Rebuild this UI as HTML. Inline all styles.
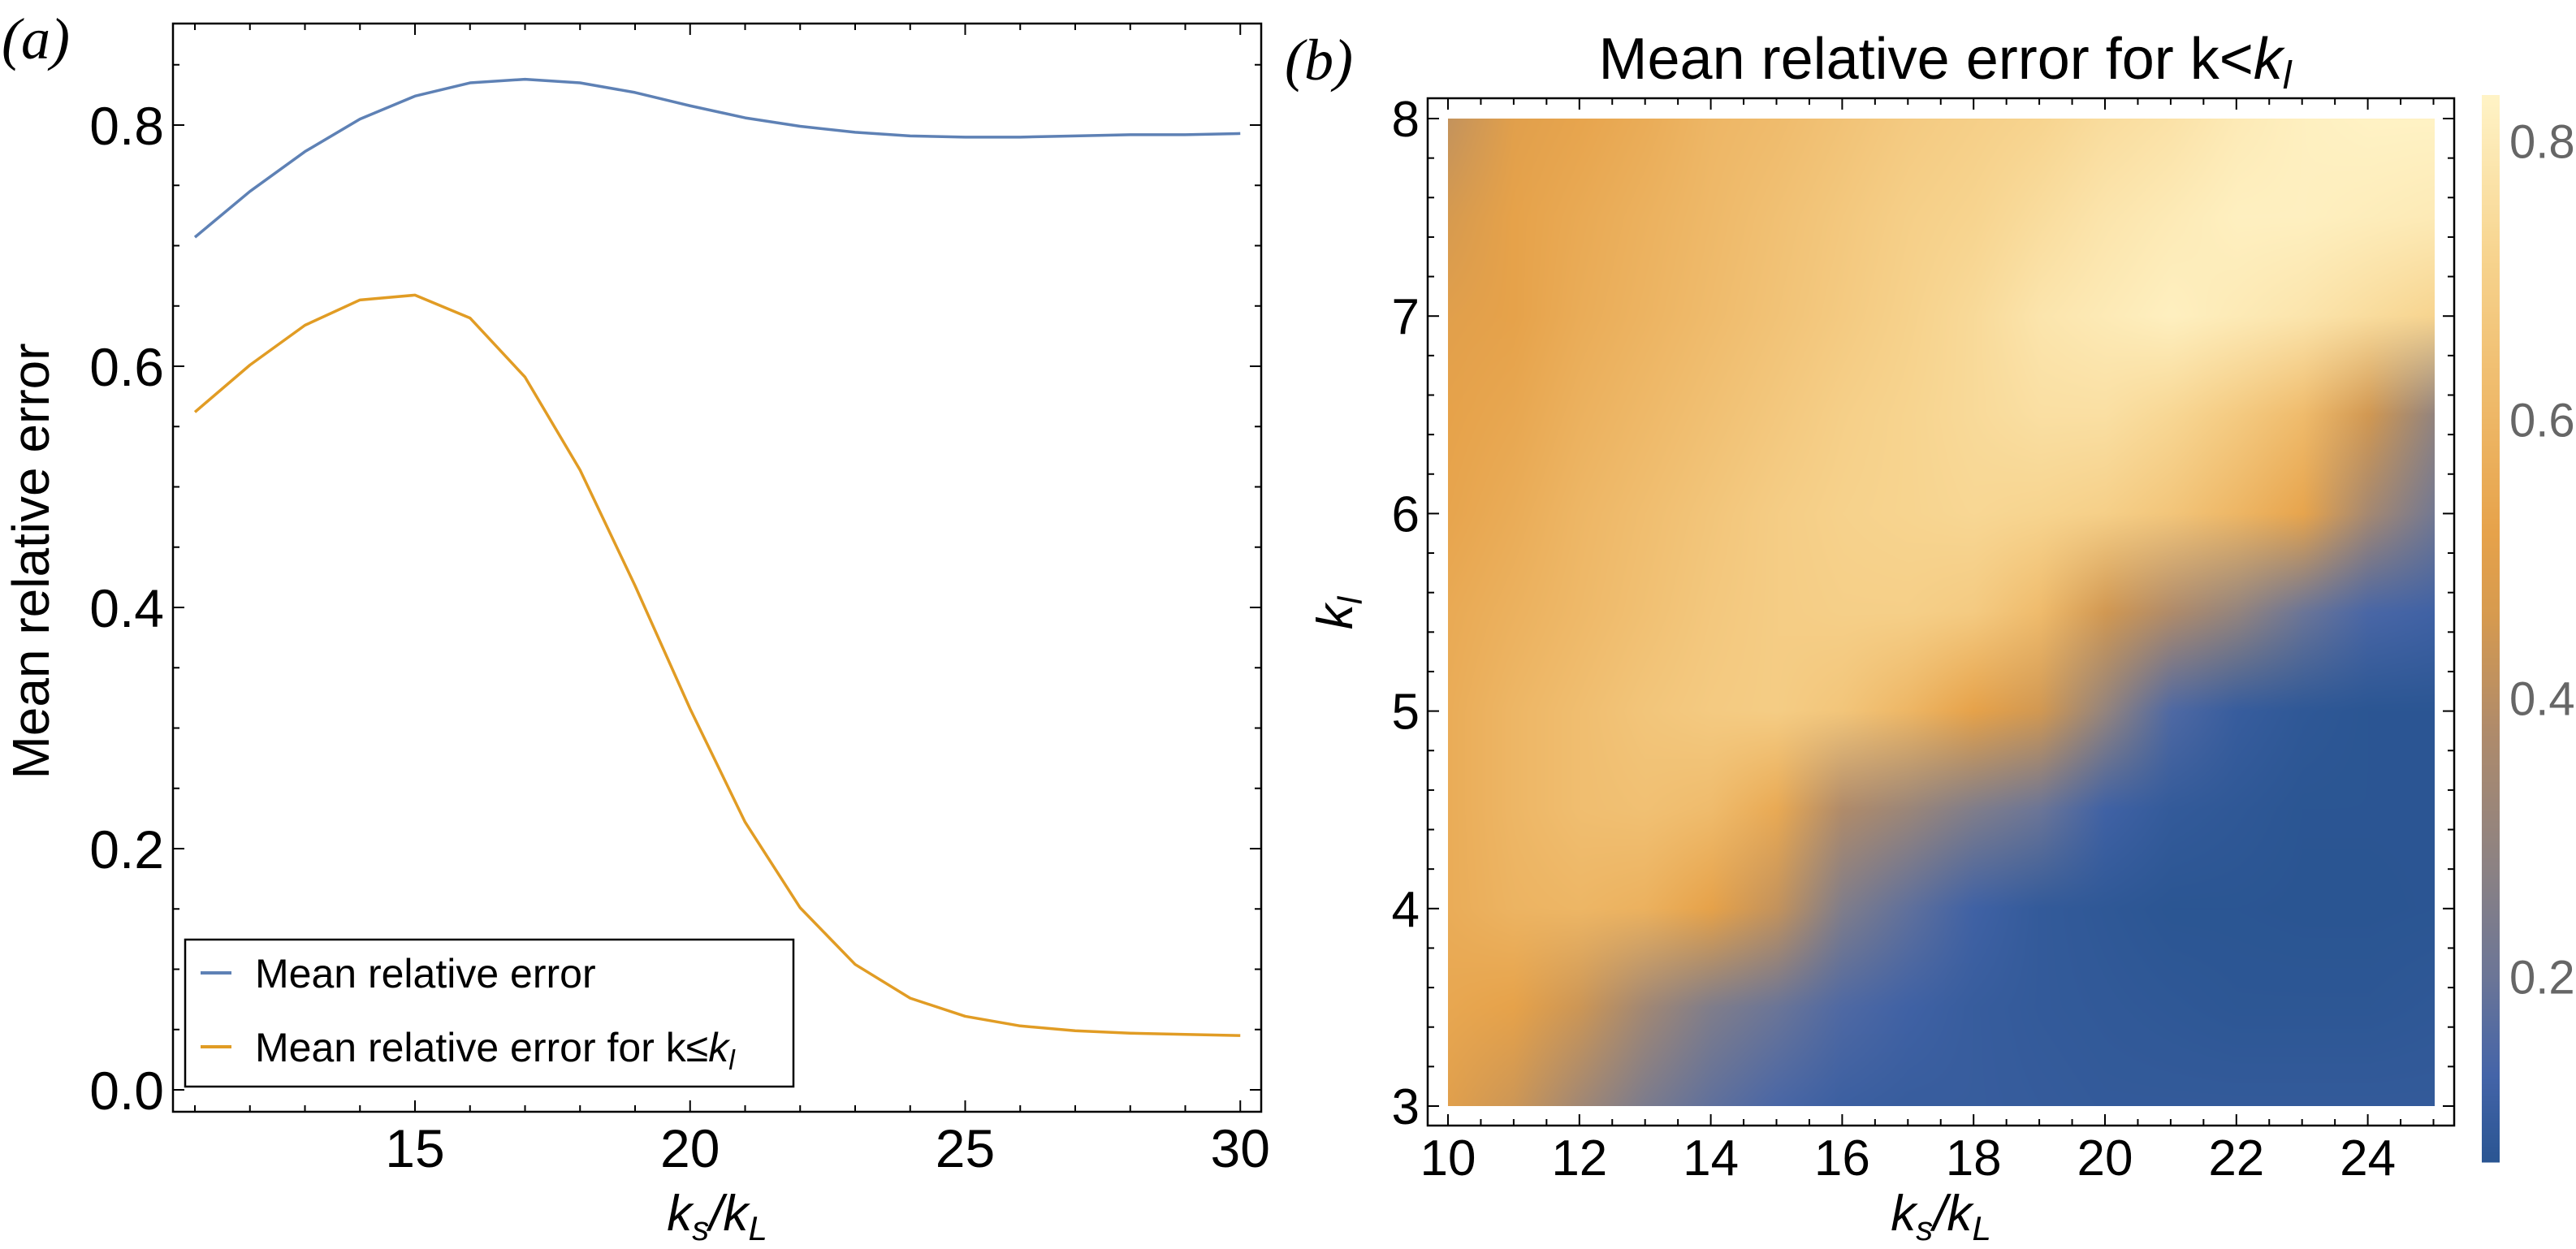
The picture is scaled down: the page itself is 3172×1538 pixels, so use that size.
<!DOCTYPE html>
<html><head><meta charset="utf-8"><style>
html,body{margin:0;padding:0;background:#fff;}
#wrap{position:relative;width:3172px;height:1538px;overflow:hidden;}
svg{position:absolute;left:0;top:0;}
#hm{position:absolute;left:1783px;top:146px;}
text{font-family:"Liberation Sans",sans-serif;}
</style></head><body>
<div id="wrap">
<canvas id="hm" width="1215" height="1216"></canvas>
<svg id="svg" width="3172" height="1538"></svg>
</div>
<script>
// ---- Panel (a) data ----
const ksA = [11,12,13,14,15,16,17,18,19,20,21,22,23,24,25,26,27,28,29,30];
const meanErr = [0.707,0.745,0.778,0.805,0.824,0.835,0.838,0.835,0.827,0.816,0.806,0.799,0.794,0.791,0.790,0.790,0.791,0.792,0.792,0.793];
const meanErrLow = [0.562,0.601,0.634,0.655,0.659,0.640,0.591,0.514,0.418,0.316,0.222,0.151,0.104,0.076,0.061,0.053,0.049,0.047,0.046,0.045];
const xTicksA = [15,20,25,30];
const yTicksA = [0.0,0.2,0.4,0.6,0.8];
// ---- Panel (b) data ----
const ksB = [10,11,12,13,14,15,16,17,18,19,20,21,22,23,24,25];
const klB = [3,3.5,4,4.5,5,5.5,6,6.5,7,7.5,8];
const errGrid = [
 [0.50,0.44,0.34,0.24,0.18,0.14,0.11,0.10,0.10,0.095,0.09,0.09,0.09,0.09,0.09,0.09],
 [0.54,0.52,0.44,0.34,0.25,0.20,0.15,0.12,0.10,0.09,0.085,0.08,0.075,0.075,0.075,0.08],
 [0.56,0.59,0.60,0.58,0.52,0.42,0.25,0.18,0.12,0.09,0.08,0.07,0.07,0.065,0.065,0.07],
 [0.56,0.60,0.63,0.64,0.62,0.55,0.38,0.32,0.25,0.20,0.12,0.09,0.08,0.07,0.07,0.07],
 [0.56,0.60,0.63,0.66,0.68,0.69,0.66,0.60,0.52,0.45,0.30,0.15,0.10,0.08,0.07,0.07],
 [0.55,0.58,0.61,0.64,0.67,0.69,0.70,0.70,0.68,0.62,0.45,0.38,0.30,0.20,0.14,0.12],
 [0.53,0.56,0.60,0.63,0.66,0.69,0.71,0.72,0.73,0.72,0.70,0.66,0.60,0.53,0.35,0.22],
 [0.52,0.54,0.58,0.61,0.64,0.67,0.70,0.72,0.74,0.76,0.76,0.73,0.68,0.62,0.45,0.30],
 [0.50,0.52,0.56,0.59,0.62,0.65,0.68,0.71,0.74,0.78,0.80,0.82,0.80,0.78,0.75,0.72],
 [0.46,0.52,0.55,0.58,0.61,0.64,0.67,0.70,0.72,0.75,0.78,0.80,0.82,0.82,0.81,0.80],
 [0.42,0.50,0.53,0.56,0.60,0.62,0.65,0.68,0.70,0.72,0.75,0.77,0.80,0.82,0.83,0.83]
];
const xTicksB = [10,12,14,16,18,20,22,24];
const yTicksB = [3,4,5,6,7,8];
const cbTicks = [0.2,0.4,0.6,0.8];

const NS="http://www.w3.org/2000/svg";
const svg=document.getElementById('svg');
function el(tag,attrs,parent){const e=document.createElementNS(NS,tag);for(const k in attrs)e.setAttribute(k,attrs[k]);(parent||svg).appendChild(e);return e;}

// axes (a)
const xA=v=>240+(v-11)*67.75;
const yA=v=>1342-v*1485;
const gA=el('g',{});


const frA=el('rect',{x:213,y:29,width:1340,height:1340,fill:'none',stroke:'#000','stroke-width':2.5},gA);


for(let v=11;v<=30;v++){const major=v%5===0;const L=major?14:8;
 el('line',{x1:xA(v),x2:xA(v),y1:1369,y2:1369-L,stroke:'#000','stroke-width':2},gA);
 el('line',{x1:xA(v),x2:xA(v),y1:29,y2:29+L,stroke:'#000','stroke-width':2},gA);}
for(let i=0;i<=17;i++){const v=i*0.05;const major=i%4===0;const L=major?14:8;
 el('line',{x1:213,x2:213+L,y1:yA(v),y2:yA(v),stroke:'#000','stroke-width':2},gA);
 el('line',{x1:1553,x2:1553-L,y1:yA(v),y2:yA(v),stroke:'#000','stroke-width':2},gA);}
xTicksA.forEach(v=>{const t=el('text',{x:xA(v),y:1437,'font-size':66,'text-anchor':'middle'},gA);t.textContent=v;
 
 });
yTicksA.forEach(v=>{const t=el('text',{x:202,y:yA(v)+24,'font-size':66,'text-anchor':'end'},gA);t.textContent=v.toFixed(1);
 
 });
function line(xs,ys,col,name){const p=el('polyline',{points:xs.map((x,i)=>xA(x)+','+yA(ys[i])).join(' '),fill:'none',stroke:col,'stroke-width':3.5,'stroke-linejoin':'round'},gA);
 
 }
line(ksA,meanErr,'#5e81b5','series-mean-relative-error');
line(ksA,meanErrLow,'#e19c24','series-mean-relative-error-low-k');
// legend
const lg=el('g',{},gA);


el('rect',{x:228,y:1157,width:749,height:181,fill:'#fff',stroke:'#000','stroke-width':2.5},lg);
el('line',{x1:247,x2:285,y1:1198,y2:1198,stroke:'#5e81b5','stroke-width':4},lg);
el('line',{x1:247,x2:285,y1:1289,y2:1289,stroke:'#e19c24','stroke-width':4},lg);
let t1=el('text',{x:314,y:1216,'font-size':50},lg);t1.textContent='Mean relative error';


let t2=el('text',{x:314,y:1307,'font-size':50},lg);


t2.innerHTML='Mean relative error for k≤<tspan font-style="italic">k</tspan><tspan font-style="italic" font-size="34" dy="10">l</tspan>';
let yt=el('text',{x:0,y:0,'font-size':64,'text-anchor':'middle',transform:'translate(60,691) rotate(-90)'},gA);yt.textContent='Mean relative error';


let xt=el('text',{x:883,y:1515,'font-size':62,'text-anchor':'middle','font-style':'italic'},gA);
xt.innerHTML='k<tspan font-size="42" dy="12">s</tspan><tspan dy="-12">/k</tspan><tspan font-size="42" dy="12">L</tspan>';


let la=el('text',{x:2,y:72,'font-size':72,'font-style':'italic'});
la.setAttribute('style','font-family:"Liberation Serif",serif');la.textContent='(a)';



// ---- panel (b) ----
const xB=v=>1783+(v-10)*80.9;
const yB=v=>1362-(v-3)*243.2;
const gB=el('g',{});


const frB=el('rect',{x:1758,y:121,width:1264,height:1265,fill:'none',stroke:'#000','stroke-width':2.5},gB);


for(let i=0;i<=30;i++){const v=10+i*0.5;const major=i%4===0;const L=major?14:8;
 el('line',{x1:xB(v),x2:xB(v),y1:1386,y2:1386-L,stroke:'#000','stroke-width':2},gB);
 el('line',{x1:xB(v),x2:xB(v),y1:121,y2:121+L,stroke:'#000','stroke-width':2},gB);}
for(let i=0;i<=25;i++){const v=3+i*0.2;const major=i%5===0;const L=major?14:8;
 el('line',{x1:1758,x2:1758+L,y1:yB(v),y2:yB(v),stroke:'#000','stroke-width':2},gB);
 el('line',{x1:3022,x2:3022-L,y1:yB(v),y2:yB(v),stroke:'#000','stroke-width':2},gB);}
xTicksB.forEach(v=>{const t=el('text',{x:xB(v),y:1447,'font-size':62,'text-anchor':'middle'},gB);t.textContent=v;
 
 });
yTicksB.forEach(v=>{const t=el('text',{x:1748,y:yB(v)+22,'font-size':62,'text-anchor':'end'},gB);t.textContent=v;
 
 });
let ttl=el('text',{x:2395,y:97,'font-size':72,'text-anchor':'middle'},gB);
ttl.innerHTML='Mean relative error for k&lt;<tspan font-style="italic">k</tspan><tspan font-style="italic" font-size="48" dy="12">l</tspan>';


let xtb=el('text',{x:2390,y:1515,'font-size':62,'text-anchor':'middle','font-style':'italic'},gB);
xtb.innerHTML='k<tspan font-size="42" dy="12">s</tspan><tspan dy="-12">/k</tspan><tspan font-size="42" dy="12">L</tspan>';


let ytb=el('text',{x:0,y:0,'font-size':62,'text-anchor':'middle','font-style':'italic',transform:'translate(1665,755) rotate(-90)'},gB);
ytb.innerHTML='k<tspan font-size="42" dy="12">l</tspan>';


let lb=el('text',{x:1582,y:98,'font-size':72,'font-style':'italic'});
lb.setAttribute('style','font-family:"Liberation Serif",serif');lb.textContent='(b)';



// colormap
const stops=[[0.068,[42,85,146]],[0.13,[68,100,168]],[0.2,[107,117,151]],[0.28,[140,130,131]],[0.38,[176,139,106]],[0.46,[214,154,79]],[0.52,[230,162,74]],[0.62,[239,187,108]],[0.72,[247,212,143]],[0.833,[255,243,198]]];
function cmap(v){if(v<=stops[0][0])return stops[0][1];
 for(let i=1;i<stops.length;i++){if(v<=stops[i][0]){const a=stops[i-1],b=stops[i];const t=(v-a[0])/(b[0]-a[0]);return a[1].map((c,k)=>c+(b[1][k]-c)*t);}}
 return stops[stops.length-1][1];}
const cmin=0.068,cmax=0.833;
// colorbar
const cb=el('g',{});


const cbY=v=>1429-(v-cmin)/(cmax-cmin)*(1429-117);
for(let y=117;y<1429;y+=3){const v=cmin+(1429-y)/(1429-117)*(cmax-cmin);const c=cmap(v);
 el('rect',{x:3056,y:y,width:22,height:3.5,fill:`rgb(${c.map(Math.round).join(',')})`},cb);}
cbTicks.forEach(v=>{const t=el('text',{x:3090,y:cbY(v)+21,'font-size':58,fill:'#666'},cb);t.textContent=v.toFixed(1);
 
 });

// heatmap: colours at grid nodes, linear interpolation of colours
const cv=document.getElementById('hm');const ctx=cv.getContext('2d');
const W=cv.width,H=cv.height;const img=ctx.createImageData(W,H);
const nx=ksB.length,ny=klB.length;
const cgrid=errGrid.map(r=>r.map(v=>cmap(v)));
for(let py=0;py<H;py++){
 const kl=8-(py+0.5)/H*5;
 let fy=(kl-klB[0])/(klB[1]-klB[0]);let j=Math.min(ny-2,Math.max(0,Math.floor(fy)));let ty=Math.min(1,Math.max(0,fy-j));
 for(let px=0;px<W;px++){
  const ks=10+(px+0.5)/W*15;
  let fx=(ks-ksB[0])/(ksB[1]-ksB[0]);let i=Math.min(nx-2,Math.max(0,Math.floor(fx)));let tx=Math.min(1,Math.max(0,fx-i));
  const a=cgrid[j][i],b=cgrid[j][i+1],c=cgrid[j+1][i],d=cgrid[j+1][i+1];const o=(py*W+px)*4;
  for(let k=0;k<3;k++){img.data[o+k]=(a[k]*(1-tx)+b[k]*tx)*(1-ty)+(c[k]*(1-tx)+d[k]*tx)*ty;}
  img.data[o+3]=255;}}
ctx.putImageData(img,0,0);
</script>
</body></html>
